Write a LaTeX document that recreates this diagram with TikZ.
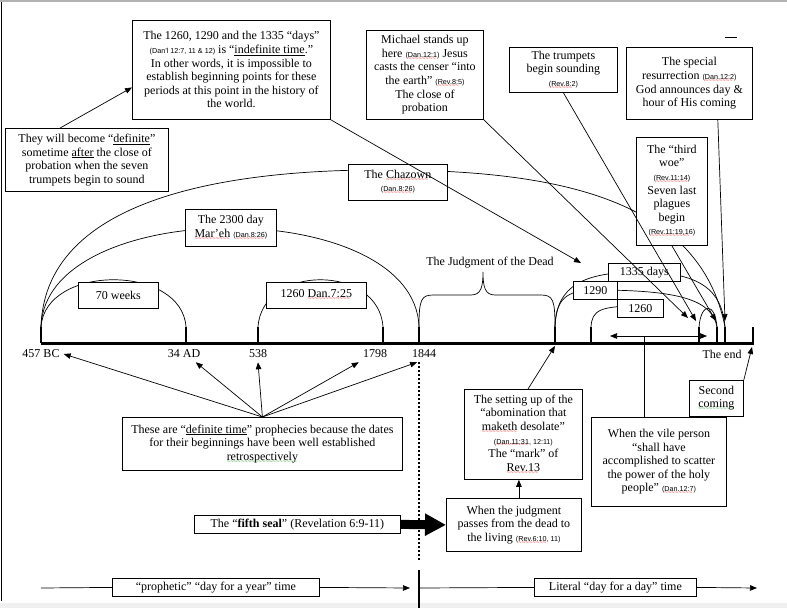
\documentclass[tikz,border=0pt]{standalone}
\usepackage{fontspec}
\setmainfont{Liberation Serif}
\setsansfont{Liberation Sans}
\usetikzlibrary{arrows.meta}

% small scripture references
\newcommand{\rf}[1]{{\fontsize{7.2}{7.5}\selectfont\sffamily(#1)}}
% wavy spell-check line under a word
\newcommand{\sq}[2][red]{\setbox0=\hbox{#2}\rlap{\lower2.8pt\hbox to \wd0{\color{#1}\leaders\hbox{\fontsize{6}{6}\sffamily\selectfont\char"7E}\hfill}}\box0\relax}

\begin{document}
\fontsize{12}{13.6}\selectfont
\begin{tikzpicture}[x=1pt, y=-1pt, >={Triangle[length=7pt,width=5.5pt]},
    box/.style={draw, fill=white, line width=0.8pt, align=center, inner sep=1pt, anchor=north west},
    tick/.style={line width=2.6pt},
    link/.style={line width=0.7pt}]
    \useasboundingbox (0,0) rectangle (787,608);
    % edges of the window
    \draw[gray!60, line width=1.2pt] (0,1) -- (787,1);
    \draw[line width=0.8pt] (1,2) -- (1,601);
    \fill[gray!12] (0,603) rectangle (787,608);

    % the time line
    \draw[line width=3pt] (41,343) -- (754,343);
    \foreach \n/\x in {bc/41, ad/186, y538/258, y1798/383, y1844/419, abom/555, vile/591, ta/699, tb/717, tc/725, tend/753}{
      \coordinate (\n) at (\x,327);
      \draw[tick] (\x,327) -- (\x,343);
    }
    \node (l457) at (41,354) {457 BC};
    \node (l34) at (184,354) {34 AD};
    \node (l538) at (258,354) {538};
    \node (l1798) at (375,354) {1798};
    \node (l1844) at (424,354) {1844};
    \node (lend) at (722,354) {The end};

    % the periods
    \draw[link] (bc) .. controls (45,264) and (182,264) .. (ad);
    \draw[link] (y538) .. controls (262,264) and (379,264) .. (y1798);
    \draw[link] (bc) .. controls (45,195) and (415,195) .. (y1844);
    \draw[link] (bc) .. controls (45,190) and (250,168) .. (400,170) .. controls (560,172) and (700,200) .. (tc);
    \draw[link] (y1844) .. controls (419,300) and (421,295) .. (433,295) -- (471,295)
      .. controls (481,295) and (483,287) .. (483,272) .. controls (483,287) and (485,295) .. (495,295)
      -- (541,295) .. controls (553,295) and (555,300) .. (abom);
    \node (jdead) at (490,263) {The Judgment of the Dead};
    \draw[link] (abom) .. controls (556,285) and (585,272) .. (640,272) .. controls (700,272) and (722,290) .. (tc);
    \draw[link] (abom) .. controls (556,300) and (565,290) .. (595,290) .. controls (680,290) and (712,300) .. (tb);
    \draw[link] (vile) .. controls (592,310) and (600,306) .. (640,306);
    \draw[link] (ta) .. controls (701,302) and (715,302) .. (tb);
    \draw[link, <->] (610,336) -- coordinate[pos=0.35] (dmid) (707,336);

    % boxes
    \node[box, minimum width=198pt, minimum height=99pt] (days) at (132,20)
      {The 1260, 1290 and the 1335 “days”\\ \rf{Dan’l 12:7, 11 \& 12} is “\underline{indefinite time}.”\\
       In other words, it is impossible to\\ establish beginning points for these\\
       periods at this point in the history of\\ the world.};
    \node[box, minimum width=163pt, minimum height=63pt] (defn) at (5,128)
      {They will become “\underline{definite}”\\ sometime \underline{after} the close of\\ probation when the seven\\ trumpets begin to sound};
    \node[box, minimum width=117pt, minimum height=89pt] (mich) at (366,30)
      {Michael stands up\\ here \rf{\sq{Dan.12:1}} Jesus\\ casts the censer “into\\ the earth” \rf{\sq{Rev.8:5}}\\ The close of\\ probation};
    \node[box, minimum width=108pt, minimum height=45pt] (trump) at (509,47)
      {The trumpets\\ begin sounding\\ \rf{\sq{Rev.8:2}}};
    \node[box, minimum width=126pt, minimum height=72pt] (resur) at (626,47)
      {The special\\ resurrection \rf{\sq{Dan.12:2}}\\ God announces day \&\\ hour of His coming};
    \node[box, minimum width=71pt, minimum height=108pt] (woe) at (636,137)
      {The “third\\ woe”\\ \rf{\sq{Rev.11:14}}\\ Seven last\\ plagues\\ begin\\ \rf{\sq{Rev.11:19,16}}};
    \node[box, minimum width=99pt, minimum height=36pt] (chaz) at (348,164)
      {The \sq{Chazown}\\ \rf{\sq{Dan.8:26}}};
    \node[box, minimum width=91pt, minimum height=37pt] (mareh) at (185,209)
      {The 2300 day\\ \sq{Mar’eh} \rf{\sq{Dan.8:26}}};
    \node[box, minimum width=80pt, minimum height=26pt] (seventy) at (78,282) {70 weeks};
    \node[box, minimum width=100pt, minimum height=26pt] (dan) at (266,282) {1260 \sq{Dan.7:25}};
    \node[box, minimum width=72pt, minimum height=18pt] (d1335) at (608,263) {1335 days};
    \node[box, minimum width=44pt, minimum height=18pt] (d1290) at (573,281) {1290};
    \node[box, minimum width=46pt, minimum height=18pt] (d1260) at (617,299) {1260};

    \node[box, minimum width=280pt, minimum height=53pt] (deftime) at (122,417)
      {These are “\underline{definite time}” prophecies because the dates\\ for their beginnings have been well established\\
       \sq[green!55!black]{retrospectively}};
    \node[box, minimum width=118pt, minimum height=90pt] (abomb) at (464,389)
      {The setting up of the\\ “abomination that\\ \sq{maketh} desolate”\\ \rf{\sq{Dan.11:31}, 12:11}\\ The “mark” of\\ \sq{Rev.13}};
    \node[box, minimum width=54pt, minimum height=36pt] (second) at (689,380)
      {Second\\ \sq[green!55!black]{coming}};
    \node[box, minimum width=135pt, minimum height=89pt] (vileb) at (591,417)
      {When the vile person\\ “shall have\\ accomplished to scatter\\ the power of the holy\\ people” \rf{\sq{Dan.12:7}}};
    \node[box, minimum width=135pt, minimum height=53pt] (judge) at (446,498)
      {When the judgment\\ passes from the dead to\\ the living \rf{\sq{Rev.6:10}, 11}};
    \node[box, minimum width=206pt, minimum height=18pt] (seal) at (194,515)
      {The “\textbf{fifth seal}” (Revelation 6:9-11)};
    \node[box, minimum width=207pt, minimum height=18pt] (proph) at (112,578) {“prophetic” “day for a year” time};
    \node[box, minimum width=162pt, minimum height=18pt] (literal) at (534,578) {Literal “day for a day” time};

    % free ends of the arrows
    \coordinate (jd) at (581,263);
    \coordinate (mp) at (688,318);
    \coordinate (tp) at (696,321);
    \coordinate (rp) at (725,321);
    \coordinate (wp) at (716,321);
    \coordinate (abarr) at (555,346);
    \coordinate (ep) at (752,347);
    \coordinate (divb) at (419,562);
    \coordinate (divc) at (419,570);
    \coordinate (divd) at (419,608);
    \coordinate (pstart) at (41,588);
    \coordinate (pend) at (410,588);
    \coordinate (lstart) at (419,588);
    \coordinate (lfin) at (757,588);

    % arrows
    \draw[link, ->] (defn.130) -- (days.190);
    \draw[link, ->] (days.south east) -- (jd);
    \draw[link, ->] (mich.south east) -- (mp);
    \draw[link, ->] (trump.south) -- (tp);
    \draw[link, ->] ([xshift=-35pt]resur.south east) -- (rp);
    \draw[link, ->] (woe.south) -- (wp);
    \draw[link] (725,37) -- (737,37);

    \draw[link, ->] (deftime.north) -- (l457.east);
    \draw[link, ->] (deftime.north) -- (l34.-35);
    \draw[link, ->] (deftime.north) -- (l538.south);
    \draw[link, ->] (deftime.north) -- (l1798.south west);
    \draw[link, ->] (deftime.north) -- (l1844.-130);

    \draw[line width=2.5pt, dash pattern=on 2pt off 2pt] (y1844 |- l1844.south) -- (divb);
    \draw[line width=2.5pt] (divc) -- (divd);
    \draw[line width=9pt, -{Triangle[length=21pt,width=21pt]}] (seal.east) -- (judge.west);
    \draw[link, ->] ([xshift=5pt]judge.north) -- ([xshift=5pt]judge.north |- abomb.south);
    \draw[link, ->] ([xshift=64pt]abomb.north west) -- (abarr);
    \draw[link, ->] (second.north east) -- (ep);
    \draw[link] (dmid) -- (dmid |- vileb.north);

    \draw[link] (pstart) -- (proph.west);
    \draw[link, ->] (proph.east) -- (pend);
    \draw[link] (lstart) -- (literal.west);
    \draw[link, ->] (literal.east) -- (lfin);
\end{tikzpicture}
\end{document}
